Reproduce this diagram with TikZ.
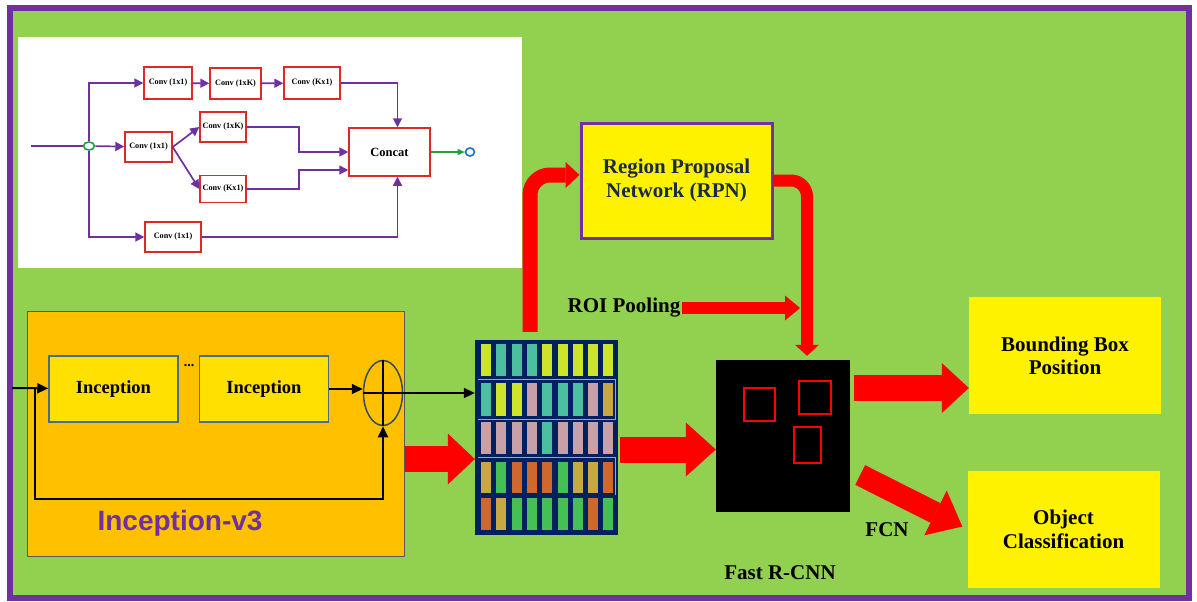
\documentclass[tikz,border=0pt]{standalone}
\usepackage{fontspec}
\setmainfont{Liberation Serif}
\newfontfamily\headsans{Liberation Sans}
\usetikzlibrary{arrows.meta,shapes.geometric,calc}

\definecolor{frameG}{HTML}{92D050}
\definecolor{framePurple}{HTML}{7030A0}
\definecolor{orangeV}{HTML}{FFC000}
\definecolor{incYellow}{HTML}{FFE000}
\definecolor{slate}{HTML}{4A6A8A}
\definecolor{navy}{HTML}{002060}
\definecolor{convRed}{HTML}{E02828}
\definecolor{rpnText}{HTML}{1A2A4A}
\definecolor{catGreen}{HTML}{20A040}
\definecolor{dotBlue}{HTML}{1E6FC0}
\definecolor{barY}{HTML}{CCE52B}
\definecolor{barT}{HTML}{4CBFA0}
\definecolor{barP}{HTML}{C8A0A8}
\definecolor{barO}{HTML}{C8A840}
\definecolor{barG}{HTML}{44C055}
\definecolor{barR}{HTML}{D0682E}
\definecolor{divLine}{HTML}{7FBF7F}

\tikzset{
  conv/.style={draw=convRed, line width=1.4pt, fill=white, inner sep=0pt,
    font=\fontsize{8.2}{9}\selectfont\bfseries},
  pline/.style={draw=framePurple, line width=1.7pt},
  parrow/.style={pline, -{Triangle[length=9pt,width=9pt]}},
  incbox/.style={draw=slate, line width=1.5pt, fill=incYellow, minimum width=129pt,
    minimum height=66pt, inner sep=0pt, font=\fontsize{18.5}{20}\selectfont\bfseries},
  bline/.style={line width=2pt},
  barrow/.style={line width=2pt, -{Triangle[length=11pt,width=10pt]}},
  txt/.style={font=\fontsize{21}{24}\selectfont\bfseries, align=center, inner sep=1pt},
  outbox/.style={fill=yellow, minimum width=192pt, minimum height=117pt, inner sep=0pt,
    font=\fontsize{21}{23}\selectfont\bfseries, align=center},
  fatred/.style={draw=red, line cap=butt},
}

\begin{document}
\begin{tikzpicture}[x=1pt,y=-1pt]
\useasboundingbox (0,0) rectangle (1197,602);

% outer frame
\draw[framePurple, line width=6pt, fill=frameG] (10,8) rectangle (1189,598);

% inception module sketch
\fill[white] (18,37) rectangle (522,268);
\node[conv, minimum width=48pt, minimum height=32pt] (c1) at (168,83) {Conv (1x1)};
\node[conv, minimum width=51pt, minimum height=31pt] (c2) at (235.5,83.5) {Conv (1xK)};
\node[conv, minimum width=56pt, minimum height=32pt] (c3) at (312,83) {Conv (Kx1)};
\node[conv, minimum width=47pt, minimum height=30pt] (m1) at (148.5,147) {Conv (1x1)};
\node[conv, minimum width=46pt, minimum height=30pt] (m2) at (223,127) {Conv (1xK)};
\node[conv, minimum width=46pt, minimum height=27pt] (m3) at (223,189) {Conv (Kx1)};
\node[conv, minimum width=56pt, minimum height=30pt] (b1) at (173,237) {Conv (1x1)};
\node[draw=convRed, line width=1.5pt, fill=white, minimum width=81pt, minimum height=48pt,
  inner sep=0pt, font=\fontsize{12.5}{14}\selectfont\bfseries] (concat) at (389.5,152) {Concat};
\node[draw=catGreen, line width=1.6pt, ellipse, minimum width=11pt, minimum height=8pt, inner sep=0pt] (inC) at (89,146) {};
\node[draw=dotBlue, line width=1.6pt, ellipse, minimum width=9pt, minimum height=8pt, inner sep=0pt] (outC) at (470,152) {};
\coordinate (inStart) at (31,146);

\draw[pline] (inStart) -- (inC);
\draw[parrow] (inC) |- (c1);
\draw[parrow] (inC) -- (m1);
\draw[parrow] (inC) |- (b1);
\draw[parrow] (c1) -- (c2);
\draw[parrow] (c2) -- (c3);
\draw[parrow] (c3) -| ([xshift=8pt]concat.north);
\draw[parrow] (m1.east) -- (m2.west);
\draw[parrow] (m1.east) -- (m3.west);
\draw[parrow] (m2.east) -- ++(52,0) |- (concat.west);
\draw[parrow] (m3.east) -- ++(52,0) |- ([yshift=-18pt]concat.west);
\draw[parrow] (b1.east) -| ([xshift=8pt]concat.south);
\draw[catGreen, line width=1.5pt, -{Triangle[length=7pt,width=6pt]}] (concat) -- (outC);

% Inception-v3 backbone
\node[draw=gray!70!black, line width=0.8pt, fill=orangeV, minimum width=377pt, minimum height=245pt] (v3) at (215.5,433.5) {};
\node[incbox] (inc1) at (113.5,389) {Inception};
\node[incbox] (inc2) at (264,389) {Inception};
\node[font=\fontsize{14}{14}\selectfont\bfseries, inner sep=0pt] (dots) at (189,366) {...};
\node[draw=slate!70!black, line width=1.5pt, ellipse, minimum width=39pt, minimum height=65pt, inner sep=0pt] (sum) at (383,393) {};
\draw[bline] (sum.north) -- (sum.south);
\draw[bline] (sum.west) -- (sum.east);
\coordinate (v3in) at (12,388);
\coordinate (skip) at (35,388);
\draw[barrow] (v3in) -- (inc1);
\draw[barrow] (inc2.east) -- (inc2.east -| sum.west);
\draw[barrow] (skip) -- ++(0,111) -| (sum.south);
\node[font=\headsans\bfseries\fontsize{28}{30}\selectfont, text=framePurple] (v3label) at (180,523) {Inception-v3};

% feature map
\node[fill=navy, minimum width=143pt, minimum height=195pt, inner sep=0pt] (fmap) at (546.5,437.5) {};
\foreach \ya/\yb/\cols in {
  344/376/{barY,barT,barT,barT,barY,barY,barY,barY,barY},
  383/416/{barT,barY,barY,barP,barT,barT,barT,barP,barO},
  422/454/{barP,barP,barP,barP,barT,barP,barP,barP,barP},
  462/493/{barO,barG,barR,barR,barR,barG,barO,barO,barR},
  498/530/{barR,barO,barG,barG,barG,barG,barG,barR,barG}}{
  \foreach \c [count=\i from 0] in \cols {
    \fill[\c] ({481+\i*15.3},\ya) rectangle ({491+\i*15.3},\yb);
  }
}
\draw[divLine, line width=1pt] (478,379) -- (615,379) -- (615,419) -- (478,419);
\draw[divLine, line width=1pt] (478,457) -- (615,457) -- (615,495);
\draw[barrow] (sum.east) -- (sum.east -| fmap.west);

% region proposal network
\node[draw=framePurple, line width=3pt, fill=yellow, minimum width=191pt, minimum height=115pt,
  txt, text=rpnText] (rpn) at (676.5,180.5) {Region Proposal\\Network (RPN)};

% Fast R-CNN detection image
\node[fill=black, minimum width=134pt, minimum height=152pt, inner sep=0pt] (img) at (783,436) {};
\draw[red, line width=2pt] (744,388) rectangle (775,421);
\draw[red, line width=2pt] (799,381) rectangle (831,414);
\draw[red, line width=2pt] (794,427) rectangle (821,463);

% outputs
\node[outbox] (bbox) at (1065,355.5) {Bounding Box\\Position};
\node[outbox, font=\fontsize{21}{24}\selectfont\bfseries] (cls) at (1063.5,529.5) {Object\\Classification};

% labels
\node[txt] (roi) at (624,308) {ROI Pooling};
\coordinate (roiEnd) at (800,308);
\node[txt] (fcn) at (887,530) {FCN};
\node[txt] (frcnn) at (780,573) {Fast R-CNN};

% red flow arrows
\draw[fatred, line width=26pt, -{Triangle[length=27pt,width=51pt,line width=0pt]}]
  ([xshift=1pt,yshift=-25.5pt]v3.east) -- ([yshift=-25.5pt]v3.east -| fmap.west);
\draw[fatred, line width=15pt, rounded corners=20pt, -{Triangle[length=14pt,width=26pt,line width=0pt]}]
  ([xshift=-16.5pt,yshift=8pt]fmap.north) |- ([yshift=5.5pt]rpn.west);
\draw[fatred, line width=12pt, rounded corners=16pt, -{Triangle[length=11pt,width=24pt,line width=0pt]}]
  (rpn.east) -| ([xshift=24pt,yshift=4pt]img.north);
\draw[fatred, line width=12pt, -{Triangle[length=15pt,width=25pt,line width=0pt]}]
  (roi) -- (roiEnd);
\draw[fatred, line width=26pt, -{Triangle[length=30pt,width=54pt,line width=0pt]}]
  ([xshift=2pt,yshift=-12pt]fmap.east) -- ([yshift=-12pt]fmap.east -| img.west);
\draw[fatred, line width=26pt, -{Triangle[length=27pt,width=50pt,line width=0pt]}]
  ([xshift=4pt,yshift=48pt]img.east) -- ([yshift=48pt]img.east -| bbox.west);
\draw[fatred, line width=22pt, -{Triangle[length=30pt,width=50pt,line width=0pt]}]
  ([xshift=10pt,yshift=-39pt]img.east) -- ([xshift=-5pt,yshift=3pt]cls.west);
\end{tikzpicture}
\end{document}
